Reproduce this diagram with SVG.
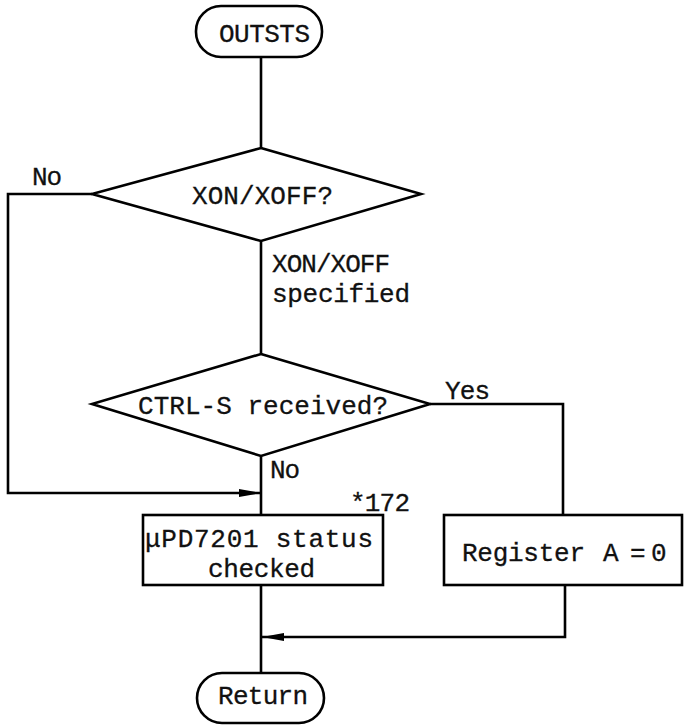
<svg xmlns="http://www.w3.org/2000/svg" width="687" height="726" viewBox="0 0 687 726">
<style>
.s{fill:none;stroke:#000;stroke-width:2.6;stroke-linejoin:miter}
.t{font-family:"Liberation Mono","DejaVu Sans Mono",monospace;font-size:26px;fill:#111;stroke:#111;stroke-width:0.3}
</style>
<defs>
<marker id="ah" viewBox="0 0 22 10" refX="22" refY="5" markerWidth="22" markerHeight="10" markerUnits="userSpaceOnUse" orient="auto">
<path d="M0,1 L22,5 L0,9 Z" fill="#000"/>
</marker>
</defs>
<rect width="687" height="726" fill="#fff"/>
<g id="connectors" class="s">
<path d="M261,57 V149"/>
<path d="M92,194 H8 V493 H261" marker-end="url(#ah)"/>
<path d="M261,241 V354"/>
<path d="M430,404 H563 V515"/>
<path d="M261,456 V515"/>
<path d="M261,585 V673"/>
<path d="M565,585 V637 H262" marker-end="url(#ah)"/>
</g>
<g id="outsts">
<rect class="s" x="196" y="6" width="126" height="51" rx="25"/>
<text class="t" x="219" y="42" textLength="91">OUTSTS</text>
</g>
<g id="xonxoff">
<polygon class="s" points="261,148 421,194 261,241 92,194"/>
<text class="t" x="192" y="204" textLength="141">XON/XOFF?</text>
</g>
<g id="labels">
<text class="t" x="32" y="185" textLength="30">No</text>
<text class="t" x="272" y="272" textLength="118">XON/XOFF</text>
<text class="t" x="272" y="302" textLength="138">specified</text>
<text class="t" x="445" y="399" textLength="45">Yes</text>
<text class="t" x="270" y="478" textLength="30">No</text>
<text class="t" x="350" y="511" textLength="60">*172</text>
</g>
<g id="ctrls">
<polygon class="s" points="261,354 430,404 261,456 92,404"/>
<text class="t" x="138" y="414" textLength="250">CTRL-S received?</text>
</g>
<g id="status">
<rect class="s" x="143" y="515" width="240" height="70"/>
<text class="t" x="145" y="547" textLength="228">μPD7201 status</text>
<text class="t" x="208" y="577" textLength="107">checked</text>
</g>
<g id="register">
<rect class="s" x="444" y="515" width="238" height="70"/>
<text class="t" y="561"><tspan x="462" textLength="123">Register</tspan><tspan x="603">A</tspan><tspan x="630">=</tspan><tspan x="651">0</tspan></text>
</g>
<g id="return">
<rect class="s" x="197" y="673" width="127" height="50" rx="25"/>
<text class="t" x="218" y="704" textLength="90">Return</text>
</g>
</svg>
